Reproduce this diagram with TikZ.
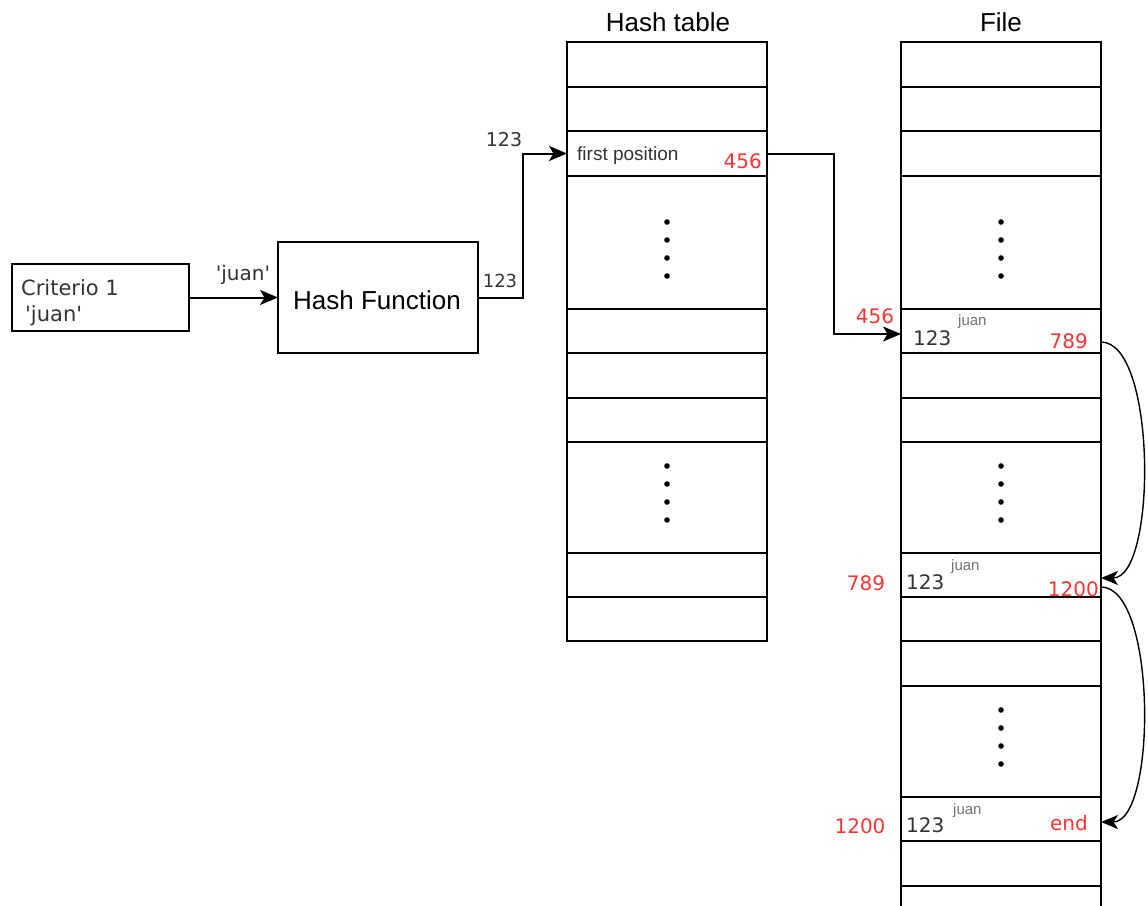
\documentclass[tikz,border=0pt]{standalone}
\usepackage{fontspec}
\setmainfont{Liberation Sans}
\newfontfamily\dvfont{DejaVu Sans}
\usetikzlibrary{arrows.meta,calc}
\definecolor{redtxt}{HTML}{FF3333}
\definecolor{graytxt}{HTML}{333333}
\begin{document}
\begin{tikzpicture}[x=1pt,y=-1pt,
  cell/.style={draw,line width=2pt,minimum width=200pt,inner sep=0pt,outer sep=0pt},
  box/.style={draw,line width=2pt,inner sep=0pt,outer sep=0pt},
  arr/.style={line width=2pt,-{Stealth[length=18pt,width=15pt,inset=4.5pt]}},
  carr/.style={line width=1.4pt,-{Stealth[length=17pt,width=14pt,inset=4.5pt]}},
  dv/.style={font=\dvfont\fontsize{20}{24}\selectfont,text=graytxt,inner sep=0pt},
  dvs/.style={font=\dvfont\fontsize{18}{22}\selectfont,text=graytxt,inner sep=0pt},
  rd/.style={font=\dvfont\fontsize{20}{24}\selectfont,text=redtxt,inner sep=0pt},
  sm/.style={font=\fontsize{15}{18}\selectfont,text=black!55,inner sep=0pt},
  title/.style={font=\fontsize{26}{30}\selectfont,inner sep=0pt}]

\useasboundingbox (0,0) rectangle (1148,905);
\clip (0,0) rectangle (1148,905);

% titles
\node[title] (httitle) at (668,22) {Hash table};
\node[title] (ftitle) at (1001,22) {File};

% hash table cells
\foreach \t/\b [count=\i] in {42/87,87/131,131/176,176/309,309/353,353/398,398/442,442/553,553/597,597/641}{
  \node[cell,minimum height={(\b-\t)*1pt}] (h\i) at (667,{(\t+\b)/2}) {};
}
% file cells
\foreach \t/\b [count=\i] in {42/87,87/131,131/176,176/309,309/353,353/398,398/442,442/553,553/597,597/641,641/686,686/797,797/841,841/886,886/930}{
  \node[cell,minimum height={(\b-\t)*1pt}] (f\i) at (1001,{(\t+\b)/2}) {};
}

% ellipsis dots
\foreach \c in {h4,f4}{
  \foreach \d in {46,64,82,100}{
    \fill ($(\c.north)+(0,\d)$) circle (2.8pt);
  }
}
\foreach \c in {h8,f8,f12}{
  \foreach \d in {24,42,60,78}{
    \fill ($(\c.north)+(0,\d)$) circle (2.8pt);
  }
}

% left boxes
\node[box,minimum width=177pt,minimum height=67pt] (crit) at (100.5,297.5) {};
\node[dv,anchor=west,font=\dvfont\fontsize{21}{24}\selectfont] (critt1) at (21,288) {Criterio 1};
\node[dv,anchor=west,font=\dvfont\fontsize{21}{24}\selectfont] (critt2) at (25,316) {\textquotesingle juan\textquotesingle};

\node[box,minimum width=200pt,minimum height=111pt] (hf) at (378,297.5) {};
\node[title] (hft) at (377,300) {Hash Function};

% arrows
\draw[arr] (crit.east) -- (hf.west);
\node[dv] (jlab) at (243,275) {\textquotesingle juan\textquotesingle};

\draw[arr] (hf.east) -- ++(45,0) |- (h3.west);
\node[dvs] (l123a) at (500,281) {123};
\node[dvs,font=\dvfont\fontsize{19}{22}\selectfont] (l123b) at (504,140) {123};

% hash table first position
\node[anchor=west,inner sep=0pt,font=\fontsize{19}{22}\selectfont,text=graytxt] (fp) at (577,156) {first position};
\node[rd,anchor=east] (v456a) at (762,161) {456};

\draw[arr] (h3.east) -- ++(67,0) |- ([yshift=-3pt]f5.west);
\node[rd] (v456b) at (875,316) {456};

% file records
\node[dv,anchor=west] (r1a) at (913,338) {123};
\node[sm,anchor=west] (r1j) at (958,322) {juan};
\node[rd,anchor=east] (r1n) at (1088,341) {789};

\node[rd] (r2p) at (866,583) {789};
\node[dv,anchor=west] (r2a) at (906,582) {123};
\node[sm,anchor=west] (r2j) at (951,567) {juan};
\node[rd,anchor=east] (r2n) at (1099,589) {1200};

\node[rd] (r3p) at (860,826) {1200};
\node[dv,anchor=west] (r3a) at (906,825) {123};
\node[sm,anchor=west] (r3j) at (953,811) {juan};
\node[rd,anchor=east] (r3n) at (1088,823) {end};

% curved links
\draw[carr] ([yshift=-11pt]f5.east) .. controls +(56,0) and +(56,0) .. ([yshift=-3pt]f9.east);
\draw[carr] ([yshift=-12pt]f9.east) .. controls +(56,0) and +(56,0) .. ([yshift=-3pt]f13.east);
\end{tikzpicture}
\end{document}
